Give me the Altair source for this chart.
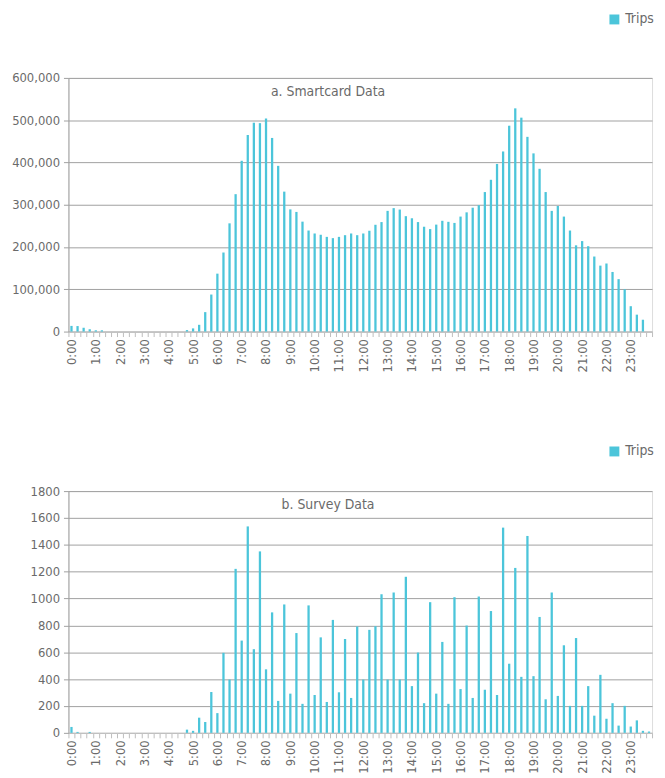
import altair as alt
import pandas as pd

# 15-minute time slots (categories)
slots = [f"{h}:{m:02d}" for h in range(24) for m in (0, 15, 30, 45)]

# a. Smartcard Data (trips per 15 min)
smartcard = [
    13400, 13000, 9000, 5500, 3000, 3000, 0, 0, 0, 0, 0, 0, 0, 0, 0, 0,
    0, 0, 0, 3500, 7500, 16000, 46000, 87600, 137000, 187000, 256000, 325000,
    404000, 465000, 494000, 493000, 504000, 458000, 392000, 331000, 289000,
    283000, 260000, 239000, 232000, 229000, 224000, 221000, 224000, 228000,
    232000, 228000, 232000, 238500, 252600, 259000, 285500, 292000, 288600,
    273000, 268000, 259000, 248000, 242400, 253000, 262000, 259600, 257000,
    272000, 282000, 293000, 299000, 330000, 359000, 396500, 426000, 487000,
    528000, 506000, 460600, 421500, 385000, 330000, 285500, 297000, 272000,
    239000, 204000, 214000, 202000, 177500, 156000, 161000, 141000, 124000,
    100000, 60000, 40000, 28000, 0,
]

# b. Survey Data (trips per 15 min)
survey = [
    44, 7, 0, 7, 0, 0, 0, 0, 0, 0, 0, 0, 0, 0, 0, 0,
    0, 0, 0, 24, 15, 113, 81, 304, 147, 596, 397, 1221, 687, 1537, 623, 1351,
    473, 897, 238, 956, 292, 743, 216, 949, 282, 711, 230, 841, 302, 699,
    260, 792, 397, 767, 794, 1032, 397, 1045, 397, 1162, 348, 598, 221, 973,
    292, 677, 216, 1010, 326, 799, 260, 1015, 321, 907, 282, 1528, 515, 1228,
    417, 1466, 422, 863, 250, 1045, 275, 652, 201, 706, 201, 348, 128, 432,
    105, 221, 54, 201, 47, 93, 15, 10,
]

series_name = "Trips"
titles = ["a. Smartcard Data", "b. Survey Data"]

BAR = "#4cc5da"
GRID = "#a0a0a0"
TXT = "#6a6a6a"
FONT = "Liberation Sans Narrow, DejaVu Sans Condensed, Roboto Condensed, sans-serif"


def panel(values, title, width, height, ymax, ystep, yfmt, ext, legx, legy, tx):
    df = pd.DataFrame({"slot": slots, "trips": values, "series": series_name})
    x = alt.X(
        "slot:N",
        sort=slots,
        scale=alt.Scale(paddingInner=0, paddingOuter=0),
        axis=alt.Axis(
            title=None,
            labelAngle=-90,
            labelExpr="isString(datum.value) && slice(datum.value, -3) == ':00' ? datum.value : ''",
            labelOverlap=False,
            labelFont=FONT,
            labelFontSize=13,
            labelColor=TXT,
            labelPadding=2,
            tickBand="extent",
            tickSize=5,
            tickColor="#bdbdbd",
            domainColor="#c4c4c4",
            grid=False,
        ),
    )
    y = alt.Y(
        "trips:Q",
        scale=alt.Scale(domain=[0, ymax], nice=False),
        axis=alt.Axis(
            title=None,
            values=list(range(0, ymax + 1, ystep)),
            format=yfmt,
            labelFont=FONT,
            labelFontSize=13,
            labelColor=TXT,
            labelPadding=4,
            tickSize=5,
            tickColor=GRID,
            domainColor=GRID,
            gridColor=GRID,
            gridWidth=1,
            minExtent=ext,
            maxExtent=ext,
        ),
    )
    bars = alt.Chart(df).mark_bar(width=2.3).encode(
        x=x,
        y=y,
        color=alt.Color(
            "series:N",
            scale=alt.Scale(domain=[series_name], range=[BAR]),
            legend=alt.Legend(
                title=None,
                orient="none",
                legendX=legx,
                legendY=legy,
                padding=0,
                offset=0,
                symbolType="square",
                symbolSize=100,
                symbolStrokeWidth=0,
                labelFont=FONT,
                labelFontSize=14,
                labelColor=TXT,
            ),
        ),
    )
    label = alt.Chart(pd.DataFrame({"t": [title]})).mark_text(
        font=FONT, fontSize=14, color=TXT, align="center", baseline="middle"
    ).encode(text="t:N", x=alt.value(tx), y=alt.value(14))
    return alt.layer(bars, label).properties(width=width, height=height)


top = panel(smartcard, titles[0], 589, 256, 600000, 100000, ",d", 60, 544, -66, 262)
bottom = panel(survey, titles[1], 589, 244, 1800, 200, "d", 60, 544, -47, 262)

chart = (
    alt.vconcat(top, bottom, spacing=71)
    .resolve_scale(x="independent", y="independent", color="independent")
    .resolve_legend(color="independent")
    .configure_view(stroke=None)
    .configure(background="white", padding={"left": 0, "top": 0, "right": 0, "bottom": 0})
)

chart.save("out.html", embed_options={"renderer": "svg", "actions": False})
